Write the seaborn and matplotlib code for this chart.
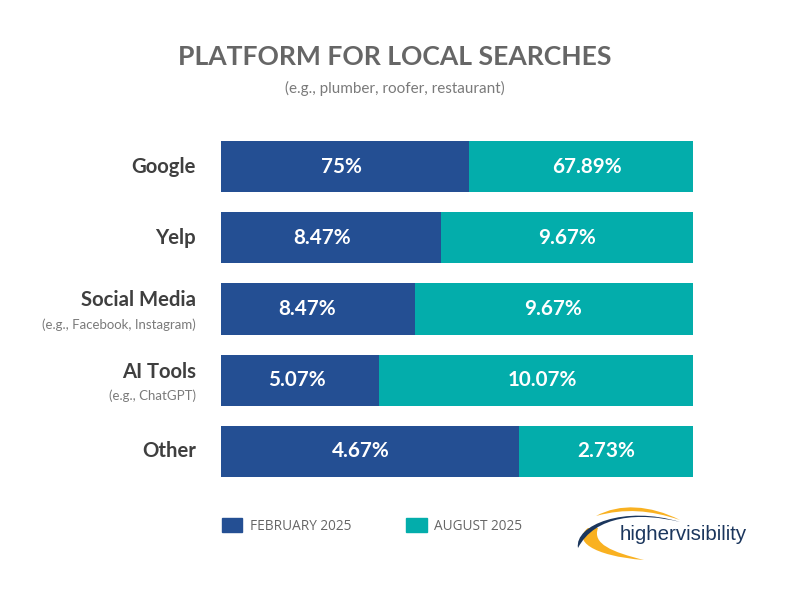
import matplotlib
matplotlib.use("Agg")
import matplotlib.pyplot as plt
from matplotlib.patches import PathPatch, Patch
from matplotlib.path import Path
import pandas as pd
import seaborn as sns

platforms = ["Google", "Yelp", "Social Media", "AI Tools", "Other"]
examples = ["", "", "(e.g., Facebook, Instagram)", "(e.g., ChatGPT)", ""]
feb_share = [52.5, 46.6, 41.1, 33.5, 63.1]
aug_share = [47.5, 53.4, 58.9, 66.5, 36.9]
feb_labels = ["75%", "8.47%", "8.47%", "5.07%", "4.67%"]
aug_labels = ["67.89%", "9.67%", "9.67%", "10.07%", "2.73%"]
series_names = ["FEBRUARY 2025", "AUGUST 2025"]

# horizontal label nudges in pixels (the reference does not centre them exactly)
feb_nudge = [-3, -9, -11, -3, -9]
aug_nudge = [6, 0, -1, 6, 0]

BLUE = "#244F93"
TEAL = "#03ADAB"
W, H = 799, 601

sns.set_theme(style="white")
plt.rcParams["font.family"] = ["Lato", "DejaVu Sans"]

fig = plt.figure(figsize=(W / 100, H / 100), dpi=100, facecolor="white")
left, right, top, bottom = 221, 693, 130.9, 487.1
ax = fig.add_axes([left / W, 1 - bottom / H, (right - left) / W, (bottom - top) / H])
px = 100 / (right - left)

df = pd.DataFrame({"platform": platforms, "feb": feb_share, "aug": aug_share})
df["total"] = df["feb"] + df["aug"]
sns.barplot(data=df, y="platform", x="total", color=TEAL, width=0.716, saturation=1,
            orient="h", ax=ax, linewidth=0)
sns.barplot(data=df, y="platform", x="feb", color=BLUE, width=0.716, saturation=1,
            orient="h", ax=ax, linewidth=0)
ax.set_xlim(0, 100)
ax.set_ylim(4.5, -0.5)
ax.set_xlabel("")
ax.set_ylabel("")
ax.set_xticks([])
ax.set_yticks([])
sns.despine(ax=ax, left=True, bottom=True)

for i, (f, a) in enumerate(zip(feb_share, aug_share)):
    ax.text(f / 2 + feb_nudge[i] * px, i, feb_labels[i], ha="center", va="center", color="white",
            fontsize=14.9, fontweight="bold")
    ax.text(f + a / 2 + aug_nudge[i] * px, i, aug_labels[i], ha="center", va="center", color="white",
            fontsize=14.9, fontweight="bold")
    lx = -25 * px
    if examples[i]:
        ax.text(lx, i - 0.12, platforms[i], ha="right", va="center", color="#3F3F3F",
                fontsize=14.6, fontweight="bold")
        ax.text(lx, i + 0.215, examples[i], ha="right", va="center", color="#7A7A7A",
                fontsize=9.5)
    else:
        ax.text(lx, i, platforms[i], ha="right", va="center", color="#3F3F3F",
                fontsize=14.6, fontweight="bold")

fig.text(394.5 / W, 1 - 57 / H, "PLATFORM FOR LOCAL SEARCHES", ha="center", va="center",
         color="#666666", fontsize=19.1, fontweight="bold")
fig.text(394.5 / W, 1 - 88.5 / H, "(e.g., plumber, roofer, restaurant)", ha="center", va="center",
         color="#7A7A7A", fontsize=10.95)

handles = [Patch(color=BLUE, label=series_names[0]), Patch(color=TEAL, label=series_names[1])]
fig.legend(handles=handles, loc="center left", bbox_to_anchor=(222 / W, 1 - 526 / H),
           ncol=2, frameon=False, borderpad=0, borderaxespad=0,
           handlelength=1.5, handleheight=1.2, handletextpad=0.55, columnspacing=4.05,
           labelcolor="#666666", prop={"family": "Open Sans", "size": 9.8})


def swoosh(points, color):
    xy = [(x / W, 1 - y / H) for x, y in points]
    codes = [Path.MOVETO, Path.CURVE4, Path.CURVE4, Path.CURVE4,
             Path.CURVE4, Path.CURVE4, Path.CURVE4, Path.CLOSEPOLY]
    fig.add_artist(PathPatch(Path(xy + [xy[0]], codes), facecolor=color, edgecolor="none",
                             transform=fig.transFigure))


swoosh([(588, 528), (572, 540), (592, 556), (644, 560),
        (612, 552), (592, 544), (598, 528)], "#F9B121")
swoosh([(596, 516), (620, 503), (650, 505), (680, 520),
        (650, 510), (625, 508), (596, 516)], "#F9B121")
swoosh([(578, 548), (574, 525), (625, 505), (680, 522),
        (640, 512), (595, 515), (578, 548)], "#1B365D")

fig.text(683 / W, 1 - 535 / H, "highervisibility", ha="center", va="center",
         color="#1B365D", fontsize=14.8, family="Liberation Sans")

fig.savefig("out.png", dpi=100)
